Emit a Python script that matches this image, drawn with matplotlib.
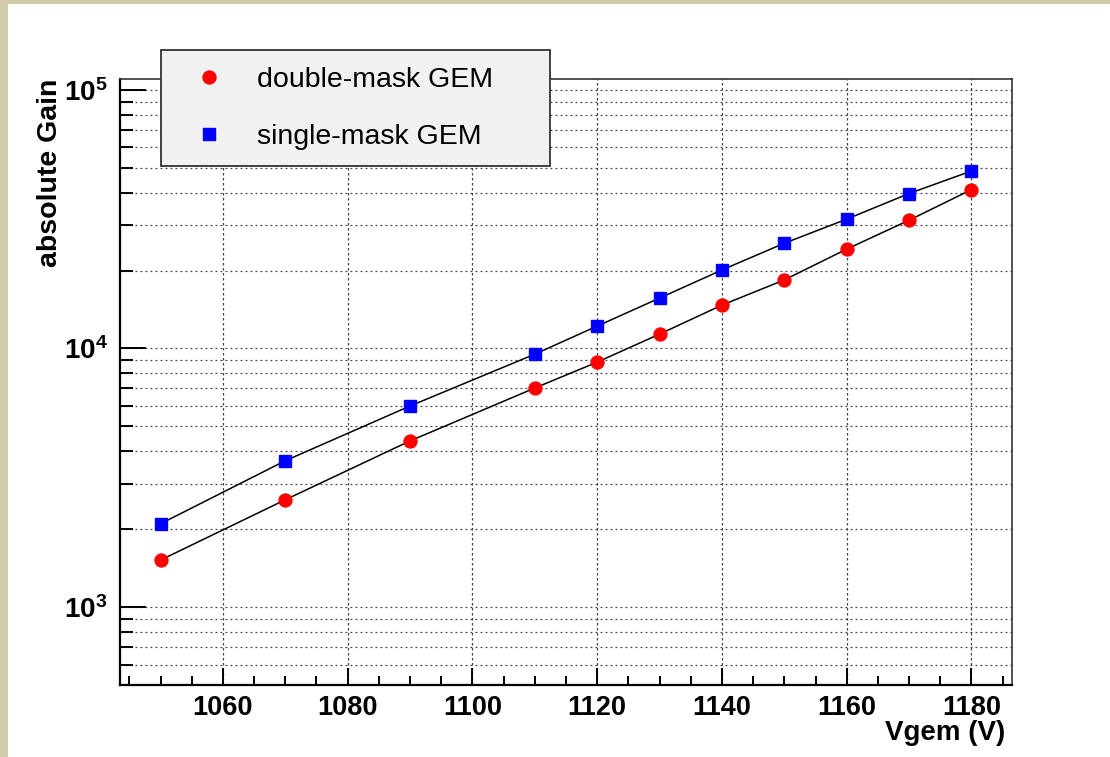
import numpy as np
import matplotlib
matplotlib.use("Agg")
import matplotlib.pyplot as plt
from matplotlib.patches import Rectangle
from matplotlib.ticker import LogLocator, MultipleLocator, NullFormatter

plt.rcParams['font.family'] = ['Liberation Sans', 'DejaVu Sans']

# data
vgem_double = [1050, 1070, 1090, 1110, 1120, 1130, 1140, 1150, 1160, 1170, 1180]
gain_double = [1520, 2600, 4390, 7030, 8850, 11360, 14700, 18400, 24200, 31300, 41100]
vgem_single = [1050, 1070, 1090, 1110, 1120, 1130, 1140, 1150, 1160, 1170, 1180]
gain_single = [2100, 3680, 5990, 9500, 12200, 15650, 20100, 25500, 31600, 39700, 48500]

W, H = 1110, 757
fig = plt.figure(figsize=(W / 100, H / 100), dpi=100, facecolor='#d0cba8')
# white page, beige strip only on left and top
fig.patches.append(Rectangle((8 / W, 0), 1, 1 - 4 / H, transform=fig.transFigure,
                             facecolor='white', edgecolor='none', zorder=-10))

ax = fig.add_axes([120 / W, 1 - 685 / H, (1012 - 120) / W, (685 - 79) / H])
ax.set_facecolor('white')

ax.plot(vgem_double, gain_double, color='black', lw=1.1, zorder=3)
ax.plot(vgem_single, gain_single, color='black', lw=1.1, zorder=3)
ax.plot(vgem_double, gain_double, 'o', color='#ff0000', ms=9.3, mec='#ff0000',
        ls='none', zorder=4, label='double-mask GEM')
ax.plot(vgem_single, gain_single, 's', color='#0000ff', ms=9, mec='#0000ff',
        ls='none', zorder=4, label='single-mask GEM')

ax.set_yscale('log')
ax.set_xlim(1043.5, 1186.5)
ax.set_ylim(500, 1.1e5)

ax.xaxis.set_major_locator(MultipleLocator(20))
ax.xaxis.set_minor_locator(MultipleLocator(5))
ax.yaxis.set_major_locator(LogLocator(base=10))
ax.yaxis.set_minor_locator(LogLocator(base=10, subs=np.arange(2, 10)))
ax.yaxis.set_minor_formatter(NullFormatter())

ax.grid(True, which='major', axis='x', color='#444444', ls=(0, (2, 2)), lw=0.9)
ax.grid(True, which='both', axis='y', color='#444444', ls=(0, (1.5, 2.5)), lw=0.9)
ax.set_axisbelow(True)

ax.tick_params(axis='y', which='major', direction='in', length=19, width=1.4,
               right=False, labelsize=20, pad=9)
ax.tick_params(axis='y', which='minor', direction='in', length=9.5, width=1.4, right=False)
ax.tick_params(axis='x', which='major', direction='in', length=12, width=1.4,
               top=False, labelsize=19.5, pad=7)
ax.tick_params(axis='x', which='minor', direction='in', length=6.5, width=1.4, top=False)
for lab in ax.get_xticklabels() + ax.get_yticklabels():
    lab.set_fontweight('bold')

ax.spines['left'].set_linewidth(1.6)
ax.spines['bottom'].set_linewidth(1.6)
ax.spines['top'].set_linewidth(1.2)
ax.spines['right'].set_linewidth(1.2)
ax.spines['top'].set_color('#333333')
ax.spines['right'].set_color('#333333')

ax.set_xlabel('Vgem (V)', fontsize=20, fontweight='bold', ha='right', va='top')
ax.xaxis.set_label_coords((1005 - 120) / 892, (685 - 720) / 606)
ax.set_ylabel('absolute Gain', fontsize=20.5, fontweight='bold', ha='right', va='bottom')
ax.yaxis.set_label_coords(-(120 - 63) / 892, 1.0)

leg = ax.legend(loc='upper left',
                bbox_to_anchor=(161 / W, 1 - 50 / H - 0.01, (550 - 161) / W, 0.01),
                bbox_transform=fig.transFigure, mode='expand', fontsize=20.5,
                frameon=True, fancybox=False, edgecolor='#333333', facecolor='#f1f1f1',
                framealpha=1, borderpad=0.58, handlelength=2.2, handletextpad=0.58,
                labelspacing=1.1, borderaxespad=0)
leg.get_frame().set_linewidth(1.3)
leg.set_zorder(10)

fig.savefig('out.png', dpi=100, facecolor=fig.get_facecolor())
